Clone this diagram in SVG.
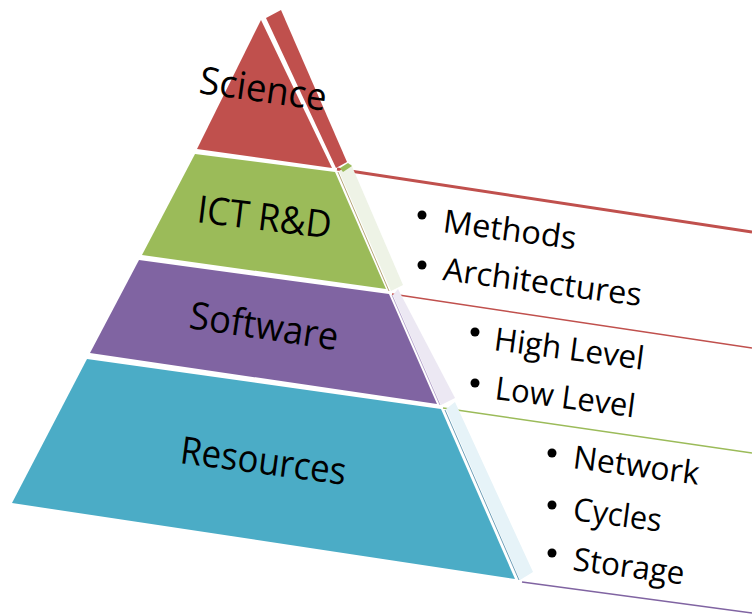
<svg xmlns="http://www.w3.org/2000/svg" width="752" height="615" viewBox="0 0 752 615">
<style>
.lbl{font-family:"Open Sans","Liberation Sans",sans-serif;font-size:38px;fill:#000}
.itm{font-family:"Open Sans","Liberation Sans",sans-serif;font-size:32px;fill:#000}
.dot{fill:#000}
</style>
<rect x="0" y="0" width="752" height="615" fill="#ffffff"/>
<g id="connectors">
<line x1="337" y1="169" x2="752" y2="232" stroke="#c0504d" stroke-width="3"/>
<line x1="392" y1="294" x2="752" y2="348" stroke="#c0504d" stroke-width="1.5"/>
<line x1="443" y1="408" x2="752" y2="453" stroke="#9bbb59" stroke-width="1.5"/>
<line x1="522" y1="582" x2="752" y2="613" stroke="#8064a2" stroke-width="1.5"/>
</g>
<g id="science">
<polygon points="261,20 332,168 197,149" fill="#c0504d"/>
<polygon points="266,18 281,10 347,162 336,168" fill="#c0504d"/>
<text class="lbl" transform="translate(198,93) rotate(8)" textLength="128" lengthAdjust="spacingAndGlyphs">Science</text>
</g>
<g id="ict">
<polygon points="195,154 335,172 386,289 142,255" fill="#9bbb59"/>
<polygon points="339,171 351,164 403,285 391,291" fill="#eef3e6"/>
<polygon points="340,168 348,163 352,166 343,172" fill="#9bbb59"/>
<line x1="338" y1="172" x2="389" y2="291" stroke="#b7a77a" stroke-width="1"/>
<text class="lbl" transform="translate(196,222) rotate(7)" textLength="135" lengthAdjust="spacingAndGlyphs">ICT R&amp;D</text>
<circle class="dot" cx="422" cy="215" r="4.5"/>
<text class="itm" transform="translate(442,232) rotate(7.5)" textLength="134" lengthAdjust="spacingAndGlyphs">Methods</text>
<circle class="dot" cx="422" cy="265" r="4.5"/>
<text class="itm" transform="translate(442,280) rotate(7.5)" textLength="200" lengthAdjust="spacingAndGlyphs">Architectures</text>
</g>
<g id="software">
<polygon points="139,260 389,294 437,404 90,353" fill="#8064a2"/>
<polygon points="393,295 398,289 455,398 441,405" fill="#ece8f3"/>
<line x1="392" y1="295" x2="440" y2="405" stroke="#b9a9cf" stroke-width="1"/>
<text class="lbl" transform="translate(188,328) rotate(8.5)" textLength="150" lengthAdjust="spacingAndGlyphs">Software</text>
<circle class="dot" cx="475" cy="332" r="4.5"/>
<text class="itm" transform="translate(493,350) rotate(7.5)" textLength="151" lengthAdjust="spacingAndGlyphs">High Level</text>
<circle class="dot" cx="475" cy="383" r="4.5"/>
<text class="itm" transform="translate(494,399) rotate(7.5)" textLength="141" lengthAdjust="spacingAndGlyphs">Low Level</text>
</g>
<g id="resources">
<polygon points="87,359 441,409 515,579 12,503" fill="#4bacc6"/>
<polygon points="446,409 455,402 533,572 520,580" fill="#e6f3f8"/>
<line x1="445" y1="410" x2="519" y2="580" stroke="#6f9fb8" stroke-width="1"/>
<text class="lbl" transform="translate(179,463) rotate(7.5)" textLength="167" lengthAdjust="spacingAndGlyphs">Resources</text>
<circle class="dot" cx="552" cy="453" r="4.5"/>
<text class="itm" transform="translate(572,468) rotate(7.5)" textLength="127" lengthAdjust="spacingAndGlyphs">Network</text>
<circle class="dot" cx="552" cy="505" r="4.5"/>
<text class="itm" transform="translate(572,520) rotate(7.5)" textLength="89" lengthAdjust="spacingAndGlyphs">Cycles</text>
<circle class="dot" cx="552" cy="553" r="4.5"/>
<text class="itm" transform="translate(572,570) rotate(7.5)" textLength="112" lengthAdjust="spacingAndGlyphs">Storage</text>
</g>
</svg>
